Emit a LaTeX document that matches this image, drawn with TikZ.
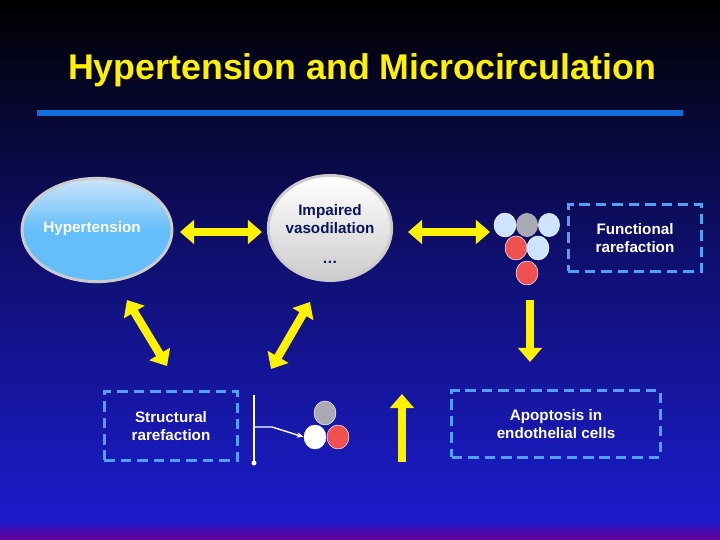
\documentclass[tikz,border=0pt]{standalone}
\usepackage{fontspec}
\setmainfont{Liberation Sans}
\usetikzlibrary{arrows.meta}
\definecolor{slideblue}{RGB}{28,28,205}
\definecolor{rulerblue}{RGB}{20,110,220}
\definecolor{boxblue}{RGB}{80,160,245}
\definecolor{cellred}{RGB}{240,80,80}
\definecolor{cellpale}{RGB}{205,228,250}
\definecolor{cellgrey}{RGB}{170,170,180}
\definecolor{inktext}{RGB}{10,20,90}
\definecolor{skyfill}{RGB}{100,190,250}
\tikzset{
	fatarrow/.style={yellow, line width=7pt, {Triangle[length=12pt,width=20pt]}-{Triangle[length=12pt,width=20pt]}},
	onearrow/.style={yellow, line width=7pt, -{Triangle[length=12pt,width=20pt]}},
	dashbox/.style={draw=boxblue, line width=2.5pt, dash pattern=on 9pt off 5pt, align=center, text=white, font=\bfseries\fontsize{13}{15}\selectfont},
	label/.style={text=white, font=\bfseries\fontsize{13}{15}\selectfont, align=center},
	cell/.style={draw=white, line width=0.4pt, minimum width=0.66cm, minimum height=0.72cm, ellipse, inner sep=0pt}
}
\usetikzlibrary{shapes.geometric}
\begin{document}
\begin{tikzpicture}[x=0.03cm,y=-0.03cm]
	\shade[top color=black, bottom color=slideblue, middle color=black!45!slideblue] (0,0) rectangle (720,520);
	\shade[top color=slideblue, bottom color=violet!80!blue] (0,519.5) rectangle (720,540);
	\useasboundingbox (0,0) rectangle (720,540);
	% title
	\node[text=yellow, font=\bfseries\fontsize{30.5}{34}\selectfont] (title) at (362,70) {Hypertension and Microcirculation};
	\draw[rulerblue, line width=5pt] (37,113) -- (683,113);
	% top row
	\node[ellipse, draw=gray!40, line width=2.5pt, top color=cellpale, bottom color=skyfill, middle color=skyfill, minimum width=4.5cm, minimum height=3.1cm] (hyp) at (97,230) {};
	\node[label] at (92,229) {Hypertension};
	\node[ellipse, draw=gray!40, line width=2.5pt, top color=white, bottom color=gray!40, minimum width=3.7cm, minimum height=3.15cm] (vaso) at (330,228) {};
	\node[label, text=inktext] at (330,219) {Impaired\\vasodilation};
	\node[label, text=inktext] (dots) at (330,262) {\dots};
	\node[dashbox, minimum width=4cm, minimum height=2cm] (func) at (635,238) {Functional\\rarefaction};
	% cells
	\node[cell, fill=cellpale] (c1) at (505,225) {};
	\node[cell, fill=cellgrey, draw=none] (c2) at (527,225) {};
	\node[cell, fill=cellpale, draw=none] (c3) at (549,225) {};
	\node[cell, fill=cellred] (c4) at (516,248) {};
	\node[cell, fill=cellpale] (c5) at (538,248) {};
	\node[cell, fill=cellred] (c6) at (527,273) {};
	% bottom row
	\node[dashbox, minimum width=4cm, minimum height=2.05cm] (struct) at (171,426) {Structural\\rarefaction};
	\node[dashbox, minimum width=6.25cm, minimum height=2cm] (apop) at (556,424) {Apoptosis in\\endothelial cells};
	\node[cell, fill=cellgrey] (b1) at (325,413) {};
	\node[cell, fill=white] (b2) at (315,437) {};
	\node[cell, fill=cellred] (b3) at (338,437) {};
	\coordinate (vtop) at (254,395);
	\coordinate (vbot) at (254,463);
	\coordinate (knee) at (272,427);
	\draw[white, line width=1.2pt] (vtop) -- (vbot);
	\fill[white] (vbot) circle (2.5);
	\draw[white, line width=1.2pt, -{Stealth[length=6pt]}] (vtop|-knee) -- (knee) -- (b2.west);
	% arrows
	\draw[fatarrow] (180,232) -- (262,232);
	\draw[fatarrow] (408,232) -- (490,232);
	\draw[fatarrow] (127,300) -- (167,366);
	\draw[fatarrow] (310,302) -- (271,369);
	\draw[onearrow] (530,300) -- (530,362);
	\draw[onearrow] (402,462) -- (402,394);
\end{tikzpicture}
\end{document}
